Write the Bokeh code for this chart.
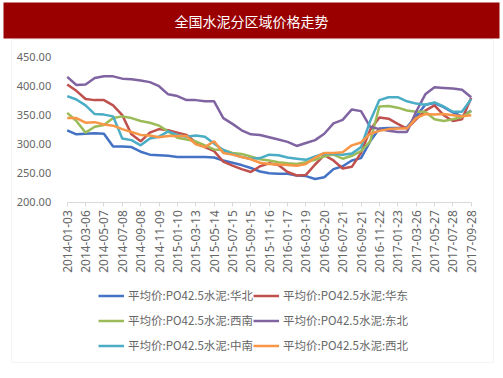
import pandas as pd
from math import pi
from bokeh.plotting import figure
from bokeh.models import (ColumnDataSource, FixedTicker, DatetimeTickFormatter,
                          NumeralTickFormatter, Legend, LegendItem, Label, Range1d,
                          BoxAnnotation)
from bokeh.embed import file_html
from bokeh.resources import INLINE

title_text = "全国水泥分区域价格走势"

dates = [
    "2014-01-03", "2014-02-03", "2014-03-06", "2014-04-06", "2014-05-07", "2014-06-07",
    "2014-07-08", "2014-08-08", "2014-09-08", "2014-10-09", "2014-11-09", "2014-12-10",
    "2015-01-10", "2015-02-10", "2015-03-13", "2015-04-13", "2015-05-14", "2015-06-14",
    "2015-07-15", "2015-08-15", "2015-09-15", "2015-10-16", "2015-11-16", "2015-12-17",
    "2016-01-17", "2016-02-17", "2016-03-19", "2016-04-19", "2016-05-20", "2016-06-20",
    "2016-07-21", "2016-08-21", "2016-09-21", "2016-10-22", "2016-11-22", "2016-12-23",
    "2017-01-23", "2017-02-23", "2017-03-26", "2017-04-26", "2017-05-27", "2017-06-27",
    "2017-07-28", "2017-08-28", "2017-09-28",
]

tick_dates = [
    "2014-01-03", "2014-03-06", "2014-05-07", "2014-07-08", "2014-09-08", "2014-11-09",
    "2015-01-10", "2015-03-13", "2015-05-14", "2015-07-15", "2015-09-15", "2015-11-16",
    "2016-01-17", "2016-03-19", "2016-05-20", "2016-07-21", "2016-09-21", "2016-11-22",
    "2017-01-23", "2017-03-26", "2017-05-27", "2017-07-28", "2017-09-28",
]

y_ticks = [200, 250, 300, 350, 400, 450]

names = [
    "平均价:PO42.5水泥:华北", "平均价:PO42.5水泥:华东",
    "平均价:PO42.5水泥:西南", "平均价:PO42.5水泥:东北",
    "平均价:PO42.5水泥:中南", "平均价:PO42.5水泥:西北",
]

huabei = [324, 317, 318, 319, 318, 296, 296, 295, 287, 282, 281, 280, 278, 278, 278, 278,
          277, 272, 268, 264, 259, 253, 250, 249, 249, 246, 245, 240, 243, 257, 262, 272,
          276, 305, 327, 328, 328, 329, 348, 368, 371, 364, 355, 348, 358]
huadong = [403, 392, 378, 376, 376, 367, 350, 317, 305, 320, 326, 324, 320, 316, 303, 295,
           288, 270, 263, 257, 252, 262, 267, 264, 252, 246, 247, 265, 281, 272, 258, 261,
           285, 325, 346, 344, 335, 327, 343, 358, 367, 350, 340, 343, 380]
xinan = [354, 340, 320, 330, 333, 345, 348, 345, 340, 337, 332, 322, 311, 308, 305, 298,
         291, 290, 285, 283, 279, 274, 272, 269, 267, 266, 269, 273, 279, 282, 275, 280,
         288, 305, 365, 366, 363, 358, 356, 356, 343, 340, 343, 347, 357]
dongbei = [416, 402, 403, 414, 417, 417, 413, 412, 410, 407, 400, 386, 383, 376, 376, 374,
           374, 345, 335, 324, 317, 316, 312, 308, 304, 297, 302, 307, 318, 336, 342, 360,
           357, 330, 326, 323, 321, 321, 356, 386, 398, 397, 396, 394, 381]
zhongnan = [383, 377, 367, 352, 351, 348, 310, 307, 298, 310, 313, 322, 316, 313, 315, 313,
            301, 290, 283, 278, 275, 276, 282, 281, 277, 275, 273, 279, 284, 283, 282, 284,
            295, 340, 376, 381, 381, 374, 370, 368, 372, 365, 356, 356, 378]
xibei = [345, 345, 337, 338, 334, 332, 326, 321, 316, 315, 312, 314, 314, 314, 300, 295,
         305, 285, 282, 278, 274, 268, 266, 265, 264, 263, 266, 277, 285, 285, 286, 298,
         303, 318, 323, 326, 327, 327, 345, 352, 351, 352, 350, 348, 350]

series = [huabei, huadong, xinan, dongbei, zhongnan, xibei]
colors = ["#4472C4", "#C0504D", "#9BBB59", "#8064A2", "#4BACC6", "#F79646"]

W, H = 503, 378
# pixel geometry of the plotting area inside the canvas
PX_L, PX_R, PX_T, PX_B = 66.7, 470.7, 56.7, 201.7

def ms(d):
    return pd.Timestamp(d).value / 1e6

x = pd.to_datetime(dates)
ticks_ms = [ms(d) for d in tick_dates]

x0, x1 = ms(tick_dates[0]), ms(tick_dates[-1])
kx = (x1 - x0) / (PX_R - PX_L)
y0, y1 = y_ticks[0], y_ticks[-1]
ky = (y1 - y0) / (PX_B - PX_T)

p = figure(width=W, height=H, x_axis_type="datetime",
           output_backend="svg", toolbar_location=None, min_border=0,
           x_range=Range1d(x0 - PX_L * kx, x1 + (W - PX_R) * kx),
           y_range=Range1d(y0 - (H - PX_B) * ky, y1 + PX_T * ky))
p.background_fill_color = "white"
p.border_fill_color = "white"
p.outline_line_color = None
p.grid.visible = False

label_color = "#666666"

yax = p.yaxis[0]
yax.fixed_location = x0
yax.ticker = FixedTicker(ticks=y_ticks)
yax.formatter = NumeralTickFormatter(format="0.00")
yax.axis_line_color = None
yax.major_tick_line_color = None
yax.minor_tick_line_color = None
yax.major_label_standoff = 10
yax.major_label_text_font = "Noto Sans"
yax.major_label_text_font_size = "11px"
yax.major_label_text_color = label_color

xax = p.xaxis[0]
xax.fixed_location = y0
xax.bounds = (x0, x1)
xax.ticker = FixedTicker(ticks=ticks_ms)
fmt = "%Y-%m-%d"
xax.formatter = DatetimeTickFormatter(days=fmt, months=fmt, years=fmt, hours=fmt,
                                      minutes=fmt, seconds=fmt, milliseconds=fmt,
                                      minsec=fmt, hourmin=fmt)
xax.axis_line_color = "#d9d9d9"
xax.major_tick_line_color = "#d9d9d9"
xax.major_tick_out = 4
xax.major_tick_in = 0
xax.minor_tick_line_color = None
xax.major_label_orientation = pi / 2
xax.major_label_standoff = 4
xax.major_label_text_font = "Noto Sans"
xax.major_label_text_font_size = "12px"
xax.major_label_text_color = label_color

# header bar and outer frame (screen units from the bottom-left)
p.add_layout(BoxAnnotation(left=3, right=499, top=H - 2, bottom=H - 38,
                           left_units="screen", right_units="screen",
                           top_units="screen", bottom_units="screen",
                           fill_color="#9A0000", fill_alpha=1, line_color=None,
                           level="underlay"))
p.add_layout(BoxAnnotation(left=11, right=493, top=H - 39, bottom=H - 362,
                           left_units="screen", right_units="screen",
                           top_units="screen", bottom_units="screen",
                           fill_alpha=0, line_color="#d9d9d9", line_width=1,
                           level="underlay"))
p.add_layout(Label(x=251, y=H - 20, x_units="screen", y_units="screen", text=title_text,
                   text_align="center", text_baseline="middle", text_color="white",
                   text_font="Noto Sans CJK SC", text_font_size="14px"))

renderers = []
for vals, c in zip(series, colors):
    src = ColumnDataSource(dict(x=x, y=vals))
    r = p.line("x", "y", source=src, line_color=c, line_width=2.5)
    renderers.append(r)

legend = Legend(items=[LegendItem(label=n, renderers=[r]) for n, r in zip(names, renderers)],
                location=(98, H - 357.5), orientation="horizontal", ncols=2,
                glyph_width=26, glyph_height=25, label_height=25, spacing=0,
                label_standoff=4, padding=0, margin=0,
                label_text_font="Noto Sans CJK SC", label_text_font_size="11.5px",
                label_text_color=label_color,
                border_line_color=None, background_fill_alpha=0)
p.add_layout(legend, "center")

open("out.html", "w").write(file_html(p, INLINE))
